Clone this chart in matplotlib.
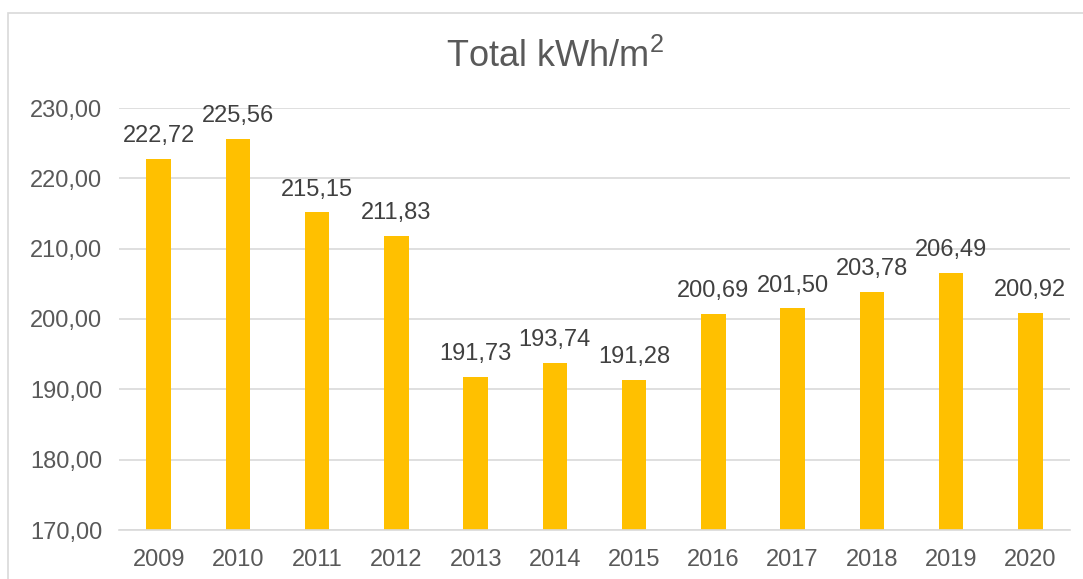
import matplotlib.pyplot as plt
from matplotlib.patches import Rectangle

# Dati
anni = ["2009", "2010", "2011", "2012", "2013", "2014", "2015", "2016", "2017", "2018", "2019", "2020"]
valori = [222.72, 225.56, 215.15, 211.83, 191.73, 193.74, 191.28, 200.69, 201.50, 203.78, 206.49, 200.92]
tick_y = [170, 180, 190, 200, 210, 220, 230]

plt.rcParams['font.family'] = ['Liberation Sans', 'DejaVu Sans']
plt.rcParams['mathtext.fontset'] = 'custom'
plt.rcParams['mathtext.rm'] = 'Liberation Sans'
plt.rcParams['mathtext.it'] = 'Liberation Sans'

def virgola(v):
    return f"{v:.2f}".replace(".", ",")

fig = plt.figure(figsize=(10.83, 5.79), dpi=100)
ax = fig.add_axes([119 / 1083, 1 - 530 / 579, (1070 - 119) / 1083, (530 - 108) / 579])

x = list(range(len(anni)))
ax.bar(x, valori, width=0.31, color="#FFC000", zorder=2)

ax.set_ylim(170, 230)
ax.set_xlim(-0.5, len(anni) - 0.5)
ax.set_yticks(tick_y)
ax.set_yticklabels([virgola(t) for t in tick_y])
ax.set_xticks(x)
ax.set_xticklabels(anni)
ax.tick_params(axis="both", length=0, labelsize=17, colors="#595959")
ax.tick_params(axis="y", pad=12)
ax.tick_params(axis="x", pad=14)

ax.grid(axis="y", color="#D9D9D9", linewidth=1.2, zorder=0)
for s in ["top", "right", "left"]:
    ax.spines[s].set_visible(False)
ax.spines["bottom"].set_color("#D9D9D9")
ax.spines["bottom"].set_linewidth(1.2)

# Etichette sopra le barre
for xi, v in zip(x, valori):
    ax.annotate(virgola(v), (xi, v), xytext=(0, 16.5), textcoords="offset points",
                ha="center", va="center", fontsize=17, color="#404040")

fig.text(555 / 1083, 1 - 57 / 579, r"Total kWh/m$^{\mathregular{2}}$", ha="center", va="center",
         fontsize=26, color="#595959")

# Bordo del grafico (tagliato a destra e in basso)
fig.patches.append(Rectangle((8 / 1083, -0.1), 1.2, 1 - 13 / 579 + 0.1, transform=fig.transFigure,
                             fill=False, edgecolor="#D9D9D9", linewidth=1.2))

plt.savefig("out.png", dpi=100)
